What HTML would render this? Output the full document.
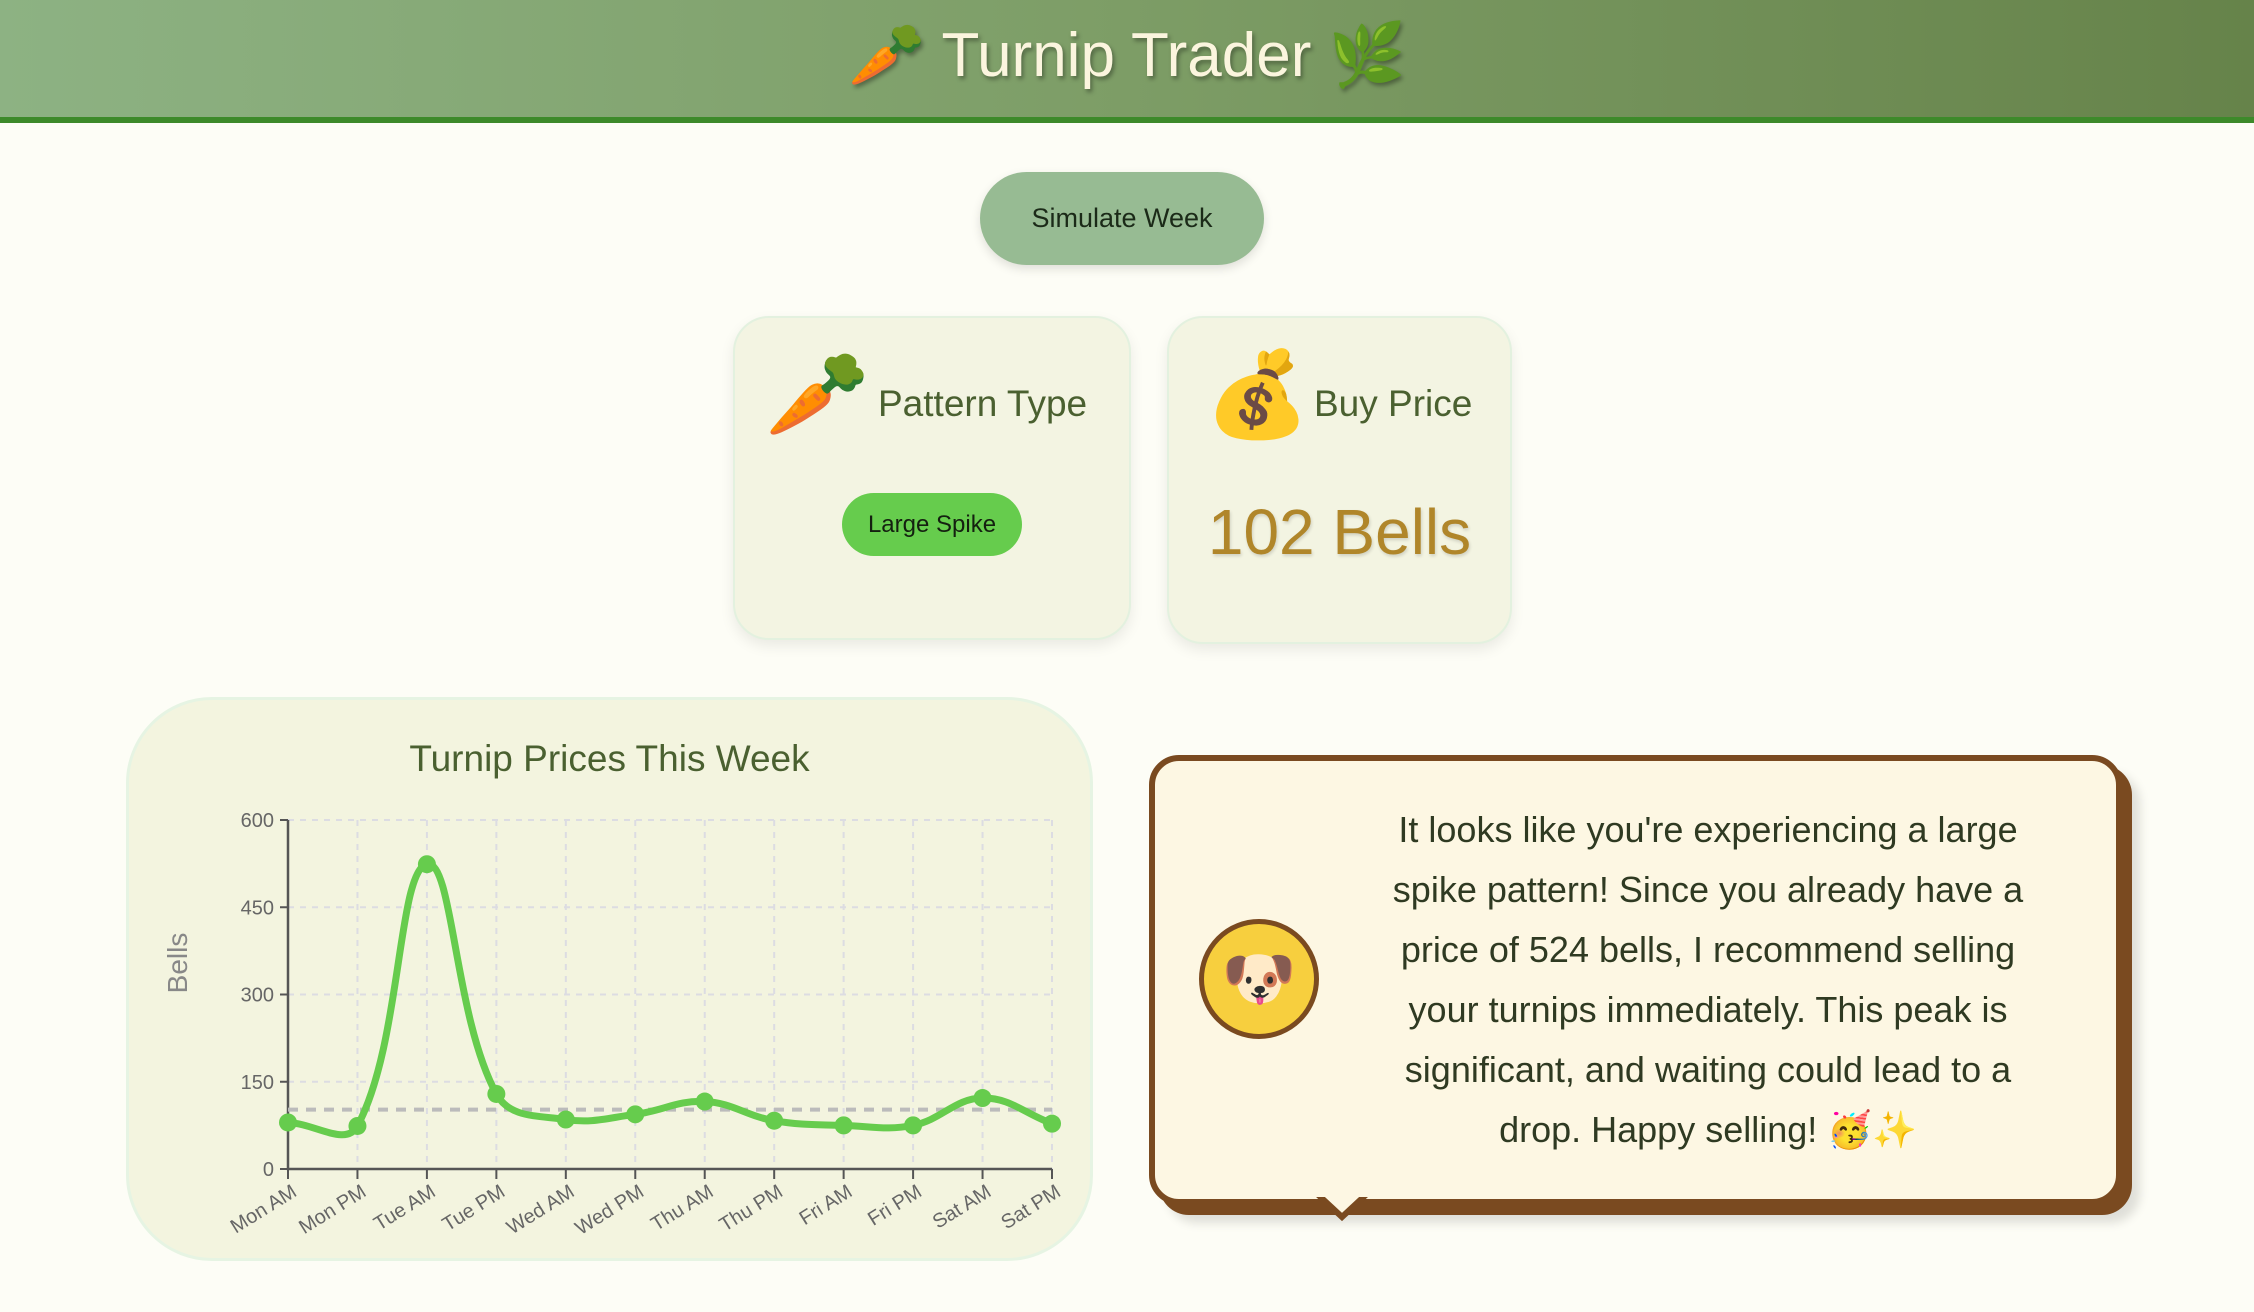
<!DOCTYPE html>
<html><head><meta charset="utf-8">
<style>
html,body{margin:0;padding:0;}
body{width:2254px;height:1312px;background:#fdfdf6;position:relative;overflow:hidden;font-family:"Liberation Sans","Noto Sans CJK JP",sans-serif;}
.abs{position:absolute;}
#header{left:0;top:0;width:2254px;height:123px;background:linear-gradient(90deg,#8db283,#7d9d66 50%,#66834a);border-bottom:6px solid #3d8a2a;box-sizing:border-box;}
#title{left:0;top:19px;width:2254px;text-align:center;font-size:62px;color:#fbf5de;text-shadow:2px 3px 4px rgba(0,0,0,.35);}
#sim{left:980px;top:172px;width:284px;height:93px;border-radius:47px;background:#97bb93;box-shadow:0 4px 10px rgba(0,0,0,.12);font-size:27px;color:#1b2a18;text-align:center;line-height:93px;}
.card{background:#f3f4e2;border:2px solid #e3f1df;border-radius:36px;box-shadow:0 6px 14px rgba(0,0,0,.08);box-sizing:border-box;}
.emoji{font-size:84px;}
.clabel{font-size:37px;color:#4a6030;}
#badge{left:842px;top:493px;width:180px;height:63px;border-radius:32px;background:#66cc4d;font-size:24px;text-align:center;line-height:63px;color:#142010;}
#price{left:1167px;top:495px;width:345px;text-align:center;font-size:64px;color:#b0862a;text-shadow:1px 2px 3px rgba(0,0,0,.15);}
#chartcard{left:126px;top:697px;width:967px;height:564px;background:#f3f4df;border:3px solid #e6f4e3;border-radius:86px;box-sizing:border-box;}
#bubble{left:1149px;top:755px;width:973px;height:450px;background:#fdf7e3;border:6px solid #7a4a20;border-radius:30px;box-sizing:border-box;box-shadow:10px 10px 0 #7a4a20,18px 18px 10px rgba(0,0,0,.12);}
#dog{left:1199px;top:919px;width:120px;height:120px;border-radius:60px;background:#f7cf3e;border:5px solid #7a4a20;box-sizing:border-box;text-align:center;line-height:110px;font-size:60px;}
#advice{left:1308px;top:800px;width:800px;text-align:center;font-size:36px;line-height:60px;color:#2f3a22;white-space:nowrap;}
</style></head>
<body>
<div id="header" class="abs"></div>
<div id="title" class="abs">🥕 Turnip Trader 🌿</div>
<div id="sim" class="abs">Simulate Week</div>

<div class="abs card" style="left:733px;top:316px;width:398px;height:324px;"></div>
<div class="abs emoji" style="left:765px;top:345px;">🥕</div>
<div class="abs clabel" style="left:878px;top:383px;">Pattern Type</div>
<div id="badge" class="abs">Large Spike</div>

<div class="abs card" style="left:1167px;top:316px;width:345px;height:328px;"></div>
<div class="abs emoji" style="left:1205px;top:345px;">💰</div>
<div class="abs clabel" style="left:1314px;top:383px;">Buy Price</div>
<div id="price" class="abs">102 Bells</div>

<div id="chartcard" class="abs"></div>
<div class="abs" style="left:126px;top:738px;width:967px;text-align:center;font-size:37px;color:#4a6030;">Turnip Prices This Week</div>
<svg id="chart" class="abs" style="left:0;top:0" width="2254" height="1312"></svg>

<div id="bubble" class="abs"></div>
<svg class="abs" style="left:1310px;top:1187px" width="64" height="40"><polygon points="4,4 60,4 32,30" fill="#fdf7e3" stroke="#7a4a20" stroke-width="6"/><rect x="0" y="0" width="64" height="10" fill="#fdf7e3"/></svg>
<div id="dog" class="abs">🐶</div>
<div id="advice" class="abs">It looks like you're experiencing a large<br>spike pattern! Since you already have a<br>price of 524 bells, I recommend selling<br>your turnips immediately. This peak is<br>significant, and waiting could lead to a<br>drop. Happy selling! 🥳✨</div>

<script>
const categories=["Mon AM","Mon PM","Tue AM","Tue PM","Wed AM","Wed PM","Thu AM","Thu PM","Fri AM","Fri PM","Sat AM","Sat PM"];
const prices=[80,74,524,129,85,94,116,83,75,75,122,78];
const buyPrice=[102];
const yTicks=[0,150,300,450,600];
const svg=document.getElementById('chart');
const NS='http://www.w3.org/2000/svg';
const X0=288,X1=1052,Y0=1169,Y1=820,YMAX=600;
const xs=i=>X0+(X1-X0)*i/(categories.length-1);
const ys=v=>Y0-(Y0-Y1)*v/YMAX;
function mk(t,a){const e=document.createElementNS(NS,t);for(const k in a)e.setAttribute(k,a[k]);svg.appendChild(e);return e;}
yTicks.forEach(v=>{
 if(v>0){const g=mk('line',{x1:X0,x2:X1,y1:ys(v),y2:ys(v),stroke:'#dcdce2','stroke-width':2,'stroke-dasharray':'6,6'});
 
 }
 const tk=mk('line',{x1:X0-8,x2:X0,y1:ys(v),y2:ys(v),stroke:'#555','stroke-width':2});
 
 
 const t=mk('text',{x:X0-14,y:ys(v)+7,'text-anchor':'end','font-size':20,fill:'#666','font-family':'Liberation Sans, sans-serif'});
 t.textContent=v;
 
 
});
categories.forEach((c,i)=>{
 if(i>0){const g=mk('line',{x1:xs(i),x2:xs(i),y1:Y1,y2:Y0,stroke:'#dcdce2','stroke-width':2,'stroke-dasharray':'6,6'});
 
 }
 const tk=mk('line',{x1:xs(i),x2:xs(i),y1:Y0,y2:Y0+10,stroke:'#555','stroke-width':2});
 
 
 const t=mk('text',{x:xs(i)+10,y:Y0+26,'text-anchor':'end','font-size':20,fill:'#666','font-family':'Liberation Sans, sans-serif',transform:`rotate(-32 ${xs(i)+10} ${Y0+26})`});
 t.textContent=c;
 
 
});
const ax=mk('path',{d:`M${X0},${Y1} V${Y0} H${X1}`,fill:'none',stroke:'#555','stroke-width':2.5});


const yl=mk('text',{x:187,y:963,'text-anchor':'middle','font-size':28,fill:'#888','font-family':'Liberation Sans, sans-serif',transform:'rotate(-90 187 963)'});
yl.textContent='Bells';


const bl=mk('line',{x1:X0,x2:X1,y1:ys(buyPrice[0]),y2:ys(buyPrice[0]),stroke:'#bbbbbb','stroke-width':4,'stroke-dasharray':'10,8'});


// Chart.js-style spline (tension 0.4)
const pts=prices.map((v,i)=>[xs(i),ys(v)]);
const T=0.4;
const cps=pts.map((cur,i)=>{
 const prev=pts[Math.max(i-1,0)],next=pts[Math.min(i+1,pts.length-1)];
 const d01=Math.hypot(cur[0]-prev[0],cur[1]-prev[1]);
 const d12=Math.hypot(next[0]-cur[0],next[1]-cur[1]);
 let s01=d01/(d01+d12||1),s12=d12/(d01+d12||1);
 const fa=T*s01,fb=T*s12;
 return {p:[cur[0]-fa*(next[0]-prev[0]),cur[1]-fa*(next[1]-prev[1])],n:[cur[0]+fb*(next[0]-prev[0]),cur[1]+fb*(next[1]-prev[1])]};
});
let d=`M${pts[0][0]},${pts[0][1]}`;
for(let i=0;i<pts.length-1;i++){
 const c1=cps[i].n,c2=cps[i+1].p,p2=pts[i+1];
 d+=` C${c1[0]},${c1[1]} ${c2[0]},${c2[1]} ${p2[0]},${p2[1]}`;
}
const ln=mk('path',{d:d,fill:'none',stroke:'#66cc4d','stroke-width':7,'stroke-linejoin':'round'});


pts.forEach(p=>{
 const c=mk('circle',{cx:p[0],cy:p[1],r:9,fill:'#66cc4d'});
 
 
});
</script>
</body></html>
